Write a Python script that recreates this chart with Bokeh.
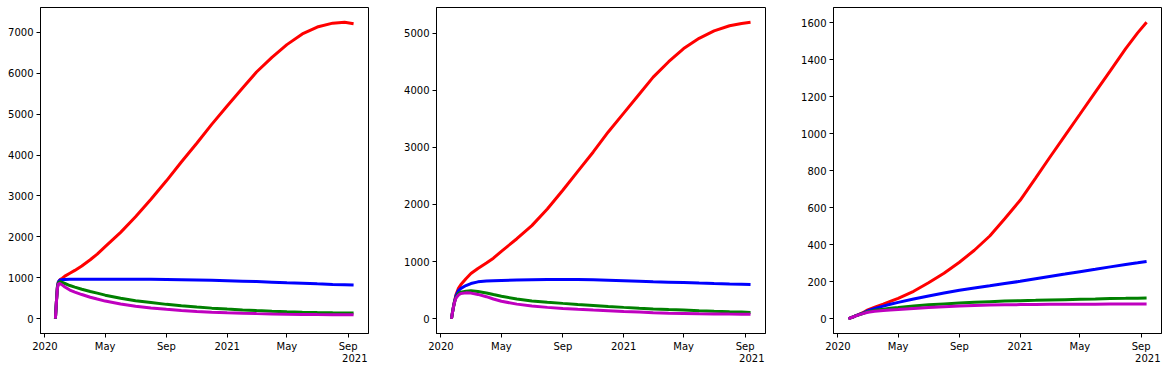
import pandas as pd
from bokeh.plotting import figure
from bokeh.layouts import row
from bokeh.models import (FixedTicker, SingleIntervalTicker, CustomJSTickFormatter,
                          Range1d, Title)
from bokeh.embed import file_html
from bokeh.resources import INLINE

# ---------------- data ----------------
dates = ["2020-01-22", "2020-01-24", "2020-01-26", "2020-01-28", "2020-01-31",
         "2020-02-05", "2020-02-10", "2020-02-20", "2020-03-01", "2020-03-15",
         "2020-04-01", "2020-04-15", "2020-05-01", "2020-06-01", "2020-07-01",
         "2020-08-01", "2020-09-01", "2020-10-01", "2020-11-01", "2020-12-01",
         "2021-01-01", "2021-02-01", "2021-03-01", "2021-04-01", "2021-05-01",
         "2021-06-01", "2021-07-01", "2021-08-01", "2021-08-25", "2021-09-12"]

red1 = [0, 420, 780, 900, 950, 990, 1040, 1110, 1180, 1290, 1440, 1580, 1760, 2110,
        2490, 2920, 3370, 3830, 4290, 4750, 5200, 5640, 6030, 6390, 6700, 6960,
        7130, 7225, 7245, 7210]
blue1 = [0, 420, 780, 900, 945, 955, 960, 963, 965, 966, 967, 967, 967, 966, 965,
         963, 958, 952, 946, 938, 928, 918, 907, 893, 879, 866, 852, 838, 829, 822]
green1 = [0, 410, 760, 880, 905, 885, 860, 810, 770, 720, 665, 625, 575, 500, 440,
          396, 350, 315, 285, 258, 235, 215, 198, 183, 170, 160, 152, 145, 140, 137]
magenta1 = [0, 400, 740, 850, 862, 820, 775, 700, 650, 590, 525, 480, 430, 360, 305,
            262, 230, 200, 178, 160, 145, 133, 124, 116, 110, 105, 101, 98, 96, 95]

red2 = [0, 110, 210, 300, 420, 530, 600, 700, 790, 880, 975, 1060, 1180, 1400, 1630,
        1920, 2250, 2580, 2920, 3270, 3600, 3930, 4230, 4500, 4730, 4910, 5040, 5130,
        5170, 5190]
blue2 = [0, 110, 210, 295, 400, 490, 530, 580, 615, 645, 660, 666, 670, 677, 682,
         686, 687, 685, 680, 673, 665, 657, 648, 640, 632, 623, 615, 607, 602, 598]
green2 = [0, 105, 200, 285, 370, 440, 465, 482, 488, 475, 450, 422, 392, 345, 310,
          287, 268, 250, 232, 214, 198, 183, 170, 160, 151, 140, 130, 120, 115, 110]
magenta2 = [0, 105, 200, 280, 360, 415, 440, 452, 448, 425, 385, 345, 305, 255, 222,
            198, 180, 165, 150, 138, 125, 115, 105, 97, 92, 87, 83, 80, 78, 76]

red3 = [0, 2, 4, 6, 9, 15, 21, 32, 48, 62, 78, 93, 110, 148, 194, 246, 305, 370, 447,
        540, 640, 760, 870, 990, 1105, 1225, 1340, 1460, 1545, 1602]
blue3 = [0, 2, 4, 6, 9, 15, 20, 30, 43, 55, 68, 78, 88, 106, 123, 139, 154, 166, 178,
         190, 202, 216, 228, 241, 254, 267, 280, 293, 302, 309]
green3 = [0, 2, 4, 6, 9, 15, 19, 28, 38, 45, 51, 56, 60, 68, 75, 80, 85, 89, 92, 95,
          97, 99, 101, 103, 105, 107, 109, 110, 111, 112]
magenta3 = [0, 2, 4, 6, 9, 14, 19, 27, 35, 40, 44, 47, 49, 55, 60, 64, 68, 71, 74, 75,
            76, 77, 77.5, 78, 78, 78.5, 79, 79, 79, 79]

tick_dates = ["2020-01-01", "2020-05-01", "2020-09-01", "2021-01-01", "2021-05-01",
              "2021-09-01"]
tick_labels = ["2020", "May", "Sep", "2021", "May", "Sep"]
offset_label = "2021"
y_intervals = [1000, 1000, 200]

colors = ["#ff0000", "#0000ff", "#008000", "#bf00bf"]
panels = [[red1, blue1, green1, magenta1],
          [red2, blue2, green2, magenta2],
          [red3, blue3, green3, magenta3]]

# ---------------- plotting ----------------
FONT = "DejaVu Sans"
x = pd.to_datetime(dates)
x_ms = [int(t.value // 10**6) for t in x]
tick_ms = [int(pd.Timestamp(d).value // 10**6) for d in tick_dates]
span = x_ms[-1] - x_ms[0]
x_lo, x_hi = x_ms[0] - 0.05 * span, x_ms[-1] + 0.05 * span

# (left border, right border, frame width)
borders = [(40, 33, 328), (32, 33, 329), (32, 5, 328)]
figs = []
for i, series in enumerate(panels):
    lo = min(min(s) for s in series)
    hi = max(max(s) for s in series)
    pad = 0.05 * (hi - lo)
    bl, br, fw = borders[i]
    p = figure(x_axis_type="datetime", output_backend="svg", toolbar_location=None,
               frame_width=fw, frame_height=326,
               min_border_left=bl, min_border_right=br, min_border_top=7,
               min_border_bottom=30,
               x_range=Range1d(x_lo, x_hi), y_range=Range1d(lo - pad, hi + pad))
    for s, c in zip(series, colors):
        p.line(x_ms, s, line_color=c, line_width=3)
    p.grid.visible = False
    p.outline_line_color = "#000000"
    p.outline_line_width = 1
    p.background_fill_color = "white"
    p.border_fill_color = "white"

    p.xaxis.ticker = FixedTicker(ticks=tick_ms)
    p.xaxis.formatter = CustomJSTickFormatter(
        args=dict(tk=tick_ms, lb=tick_labels),
        code="const i = tk.indexOf(tick); return i >= 0 ? lb[i] : '';")
    p.yaxis.ticker = SingleIntervalTicker(interval=y_intervals[i], num_minor_ticks=0)
    for ax in (p.xaxis[0], p.yaxis[0]):
        ax.axis_line_color = "#000000"
        ax.major_tick_line_color = "#000000"
        ax.major_tick_out = 4
        ax.major_tick_in = 0
        ax.minor_tick_line_color = None
        ax.major_label_standoff = 3
        ax.major_label_text_font = FONT
        ax.major_label_text_font_size = "10px"
        ax.major_label_text_color = "#000000"

    p.add_layout(Title(text=offset_label, align="right", text_font=FONT,
                       text_font_size="10px", text_font_style="normal",
                       text_color="#000000", standoff=-5, offset=1), "below")
    figs.append(p)

layout = row(*figs, spacing=0)
open("out.html", "w").write(file_html(layout, INLINE))
